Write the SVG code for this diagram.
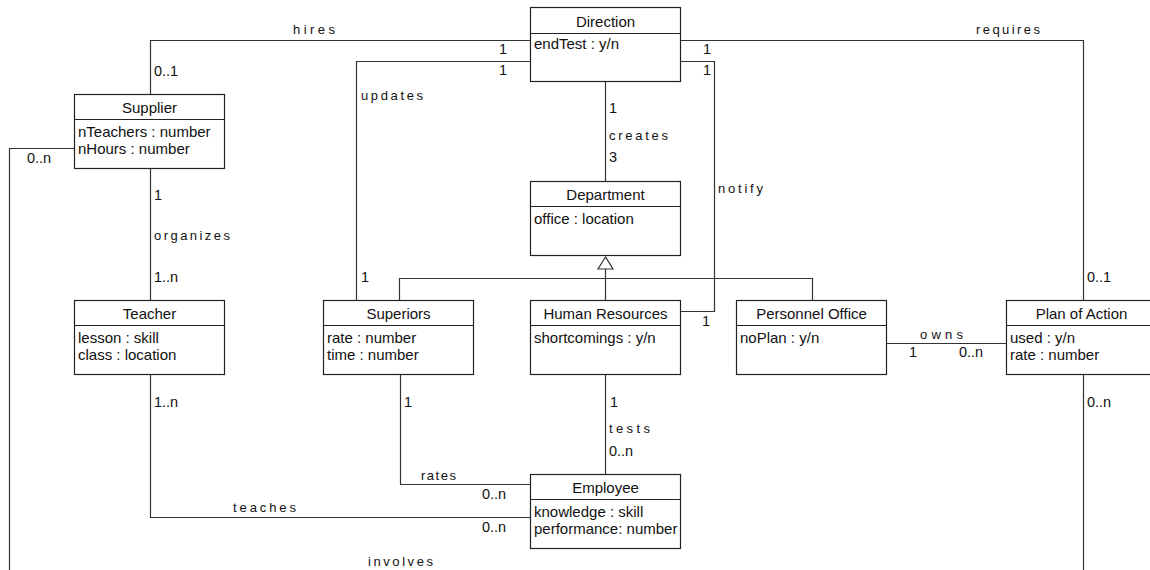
<svg xmlns="http://www.w3.org/2000/svg" width="1150" height="570" viewBox="0 0 1150 570">
<style>
.box{fill:#fff;stroke:#222;stroke-width:1.2}
.div{stroke:#222;stroke-width:1.2}
.ln{fill:none;stroke:#333;stroke-width:1.2}
.t{font-family:"Liberation Sans",Arial,sans-serif;font-size:15px;fill:#111}
.tc{font-family:"Liberation Sans",Arial,sans-serif;font-size:15px;fill:#111;text-anchor:middle}
.m{font-family:"Liberation Sans",Arial,sans-serif;font-size:14.5px;fill:#111}
.lb{font-family:"Liberation Sans",Arial,sans-serif;font-size:13px;fill:#111}
</style>
<rect width="1150" height="570" fill="#fff"/>
<g id="connectors">
<path class="ln" d="M150.5,94 V40.5 H530"/>
<path class="ln" d="M356.5,300 V61.5 H530"/>
<path class="ln" d="M605.5,81 V181"/>
<path class="ln" d="M680,61.5 H714.5 V311.5 H680"/>
<path class="ln" d="M680,40.5 H1083.5 V300"/>
<path class="ln" d="M605.5,269 V300"/>
<path class="ln" d="M399.5,300 V278.5 H812.5 V300"/>
<polygon points="605.5,257 598,269 613,269" fill="#fff" stroke="#333" stroke-width="1.2"/>
<path class="ln" d="M886,343.5 H1006"/>
<path class="ln" d="M150.5,168 V300"/>
<path class="ln" d="M150.5,374 V517.5 H530"/>
<path class="ln" d="M400.5,374 V484.5 H530"/>
<path class="ln" d="M605.5,374 V474"/>
<path class="ln" d="M74,148.5 H9.5 V580"/>
<path class="ln" d="M1083.5,374 V580"/>
<text class="lb" x="293" y="34" textLength="42" lengthAdjust="spacing">hires</text>
<text class="m" x="154" y="76">0..1</text>
<text class="m" x="27" y="163">0..n</text>
<text class="m" x="499" y="54">1</text>
<text class="m" x="499" y="75">1</text>
<text class="lb" x="361" y="100" textLength="62" lengthAdjust="spacing">updates</text>
<text class="m" x="609" y="113">1</text>
<text class="lb" x="609" y="140" textLength="59" lengthAdjust="spacing">creates</text>
<text class="m" x="609" y="162">3</text>
<text class="m" x="703" y="54">1</text>
<text class="m" x="703" y="75">1</text>
<text class="lb" x="718" y="193" textLength="45" lengthAdjust="spacing">notify</text>
<text class="lb" x="976" y="34" textLength="64" lengthAdjust="spacing">requires</text>
<text class="m" x="154" y="200">1</text>
<text class="lb" x="154" y="240" textLength="76" lengthAdjust="spacing">organizes</text>
<text class="m" x="154" y="282">1..n</text>
<text class="m" x="361" y="282">1</text>
<text class="m" x="702" y="326">1</text>
<text class="m" x="1087" y="282">0..1</text>
<text class="lb" x="920" y="339" textLength="43" lengthAdjust="spacing">owns</text>
<text class="m" x="909" y="357">1</text>
<text class="m" x="959" y="357">0..n</text>
<text class="m" x="154" y="407">1..n</text>
<text class="m" x="404" y="407">1</text>
<text class="m" x="610" y="407">1</text>
<text class="lb" x="609" y="433" textLength="41" lengthAdjust="spacing">tests</text>
<text class="m" x="609" y="456">0..n</text>
<text class="lb" x="421" y="480" textLength="35" lengthAdjust="spacing">rates</text>
<text class="m" x="482" y="499">0..n</text>
<text class="lb" x="233" y="512" textLength="63" lengthAdjust="spacing">teaches</text>
<text class="m" x="482" y="532">0..n</text>
<text class="lb" x="368" y="566" textLength="65" lengthAdjust="spacing">involves</text>
<text class="m" x="1087" y="407">0..n</text>
</g>
<g id="direction">
<rect class="box" x="530.5" y="7.5" width="150" height="74"/>
<line class="div" x1="530.5" y1="33.5" x2="680.5" y2="33.5"/>
<text class="tc" x="605.5" y="27">Direction</text>
<text class="t" x="534" y="49">endTest : y/n</text>
</g>
<g id="supplier">
<rect class="box" x="74.5" y="94.5" width="150" height="74"/>
<line class="div" x1="74.5" y1="119.5" x2="224.5" y2="119.5"/>
<text class="tc" x="149.5" y="113">Supplier</text>
<text class="t" x="78" y="136.5">nTeachers : number</text>
<text class="t" x="78" y="153.5">nHours : number</text>
</g>
<g id="department">
<rect class="box" x="530.5" y="181.5" width="150" height="74"/>
<line class="div" x1="530.5" y1="206.5" x2="680.5" y2="206.5"/>
<text class="tc" x="605.5" y="200">Department</text>
<text class="t" x="534" y="223.5">office : location</text>
</g>
<g id="teacher">
<rect class="box" x="74.5" y="300.5" width="150" height="74"/>
<line class="div" x1="74.5" y1="325.5" x2="224.5" y2="325.5"/>
<text class="tc" x="149.5" y="319">Teacher</text>
<text class="t" x="78" y="342.5">lesson : skill</text>
<text class="t" x="78" y="359.5">class : location</text>
</g>
<g id="superiors">
<rect class="box" x="323.5" y="300.5" width="150" height="74"/>
<line class="div" x1="323.5" y1="325.5" x2="473.5" y2="325.5"/>
<text class="tc" x="398.5" y="319">Superiors</text>
<text class="t" x="327" y="342.5">rate : number</text>
<text class="t" x="327" y="359.5">time : number</text>
</g>
<g id="human-resources">
<rect class="box" x="530.5" y="300.5" width="150" height="74"/>
<line class="div" x1="530.5" y1="325.5" x2="680.5" y2="325.5"/>
<text class="tc" x="605.5" y="319">Human Resources</text>
<text class="t" x="534" y="342.5">shortcomings : y/n</text>
</g>
<g id="personnel-office">
<rect class="box" x="736.5" y="300.5" width="150" height="74"/>
<line class="div" x1="736.5" y1="325.5" x2="886.5" y2="325.5"/>
<text class="tc" x="811.5" y="319">Personnel Office</text>
<text class="t" x="740" y="342.5">noPlan : y/n</text>
</g>
<g id="plan-of-action">
<rect class="box" x="1006.5" y="300.5" width="150" height="74"/>
<line class="div" x1="1006.5" y1="325.5" x2="1156.5" y2="325.5"/>
<text class="tc" x="1081.5" y="319">Plan of Action</text>
<text class="t" x="1010" y="342.5">used : y/n</text>
<text class="t" x="1010" y="359.5">rate : number</text>
</g>
<g id="employee">
<rect class="box" x="530.5" y="474.5" width="150" height="74"/>
<line class="div" x1="530.5" y1="499.5" x2="680.5" y2="499.5"/>
<text class="tc" x="605.5" y="493">Employee</text>
<text class="t" x="534" y="516.5">knowledge : skill</text>
<text class="t" x="534" y="533.5">performance: number</text>
</g>
</svg>
